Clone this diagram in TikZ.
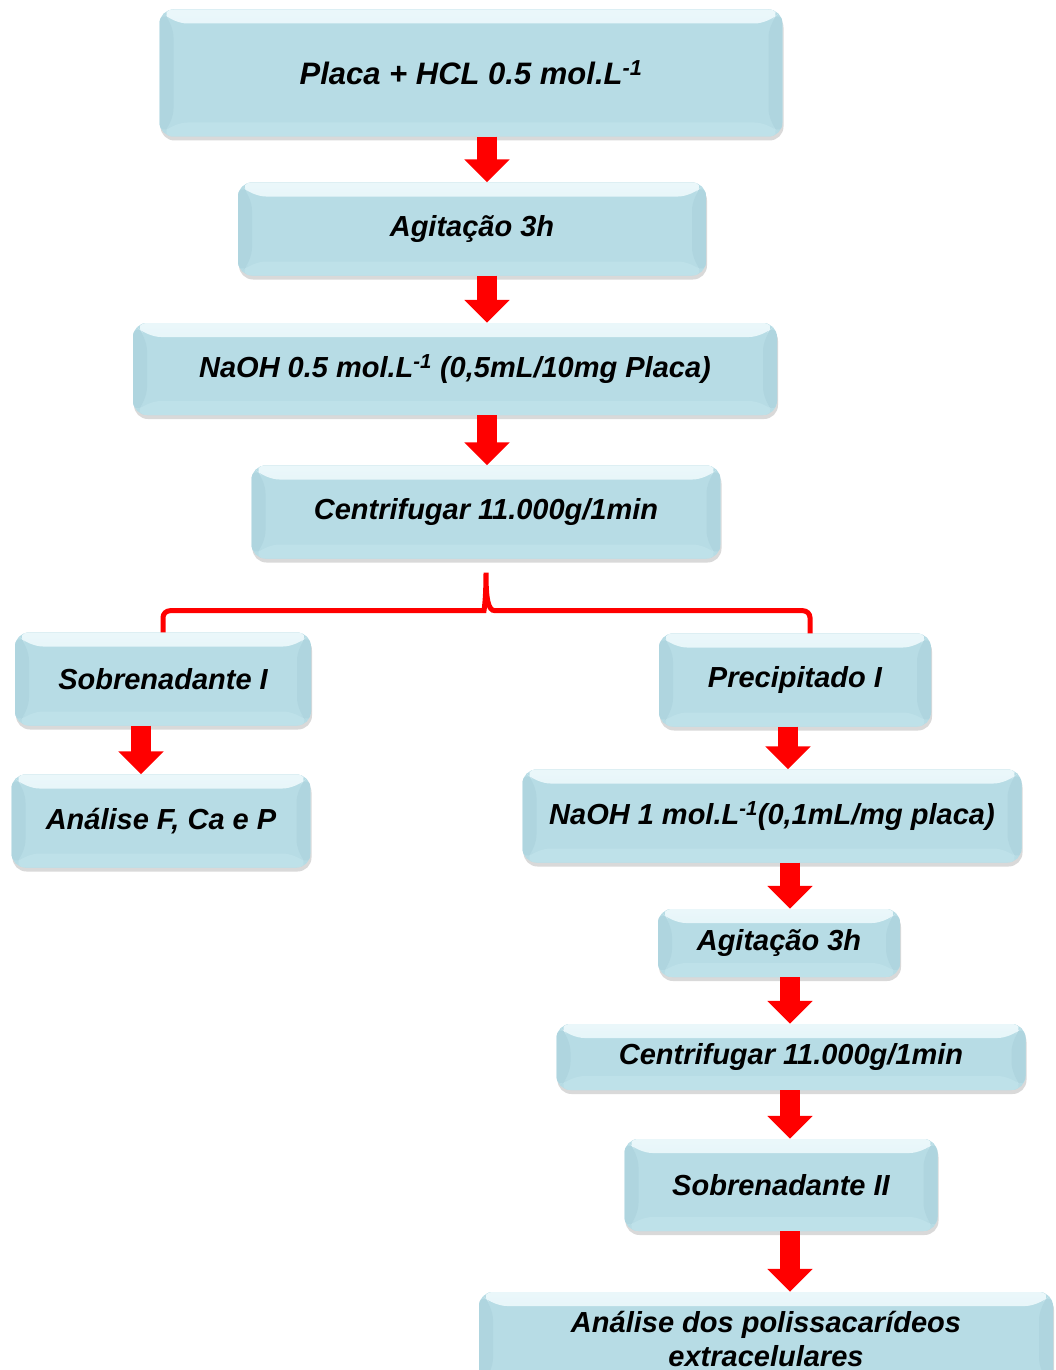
\documentclass[tikz,border=0pt]{standalone}
\usepackage{fontspec}
\setmainfont{Liberation Sans}
\usetikzlibrary{positioning, calc, arrows.meta, shadows}

\definecolor{caixa}{RGB}{183,220,229}
\definecolor{caixaluz}{RGB}{214,239,245}
\definecolor{caixalado}{RGB}{175,213,223}
\definecolor{caixabase}{RGB}{190,225,233}

\tikzset{
  etapa/.style={rounded corners=14pt, fill=caixa, inner sep=0pt, align=center,
    font=\bfseries\itshape\fontsize{29}{34}\selectfont,
    drop shadow={shadow xshift=1pt, shadow yshift=-4pt, opacity=.25, fill=black!60},
    path picture={
      \fill[top color=white!50!caixaluz, bottom color=caixaluz]
        (path picture bounding box.north west) -- (path picture bounding box.north east)
        -- ([shift={(-14pt,-14pt)}]path picture bounding box.north east)
        -- ([shift={(14pt,-14pt)}]path picture bounding box.north west) -- cycle;
      \fill[caixalado]
        (path picture bounding box.north west) -- ([shift={(14pt,-14pt)}]path picture bounding box.north west)
        -- ([shift={(14pt,14pt)}]path picture bounding box.south west) -- (path picture bounding box.south west) -- cycle;
      \fill[caixalado]
        (path picture bounding box.north east) -- ([shift={(-14pt,-14pt)}]path picture bounding box.north east)
        -- ([shift={(-14pt,14pt)}]path picture bounding box.south east) -- (path picture bounding box.south east) -- cycle;
      \fill[caixabase]
        (path picture bounding box.south west) -- (path picture bounding box.south east)
        -- ([shift={(-14pt,14pt)}]path picture bounding box.south east)
        -- ([shift={(14pt,14pt)}]path picture bounding box.south west) -- cycle;
    }},
  seta/.style={red, line width=20pt, -{Triangle[width=44pt,length=23pt]}},
  chave/.style={red, line width=5pt, rounded corners=7pt},
}

\begin{document}
\begin{tikzpicture}[x=1pt, y=-1pt]
\path[use as bounding box, clip] (0,0) rectangle (1055,1370);

% ramo principal
\node[etapa, minimum width=623pt, minimum height=127pt, font=\bfseries\itshape\fontsize{31}{36}\selectfont] (placa) at (471,73) {Placa + HCL 0.5 mol.L\textsuperscript{-1}};
\node[etapa, minimum width=468pt, minimum height=93pt] (agit) at (472,229) {Agitação 3h};
\node[etapa, minimum width=644pt, minimum height=92pt] (naoh) at (455,369) {NaOH 0.5 mol.L\textsuperscript{-1} (0,5mL/10mg Placa)};
\node[etapa, minimum width=469pt, minimum height=93pt] (centr) at (486,512) {Centrifugar 11.000g/1min};

% lado esquerdo
\node[etapa, minimum width=296pt, minimum height=93pt] (sobre) at (163,679) {Sobrenadante I};
\node[etapa, minimum width=299pt, minimum height=93pt] (analise) at (161,821) {Análise F, Ca e P};

% lado direito
\node[etapa, minimum width=272pt, minimum height=93pt] (precip) at (795,680) {Precipitado I};
\node[etapa, minimum width=499pt, minimum height=93pt] (naohb) at (772,816) {NaOH 1 mol.L\textsuperscript{-1}(0,1mL/mg placa)};
\node[etapa, minimum width=242pt, minimum height=68pt] (agitb) at (779,943) {Agitação 3h};
\node[etapa, minimum width=469pt, minimum height=66pt] (centrb) at (791,1057) {Centrifugar 11.000g/1min};
\node[etapa, minimum width=313pt, minimum height=92pt] (sobreb) at (781,1185) {Sobrenadante II};
\node[etapa, minimum width=574pt, minimum height=94pt] (polis) at (766,1339) {Análise dos polissacarídeos\\extracelulares};

% setas
\draw[seta] ([xshift=16pt]placa.south) -- ([xshift=15pt]agit.north);
\draw[seta] ([xshift=15pt]agit.south) -- ([xshift=32pt]naoh.north);
\draw[seta] ([xshift=32pt]naoh.south) -- ([xshift=1pt]centr.north);
\draw[seta] ([xshift=-22pt]sobre.south) -- ([xshift=-20pt]analise.north);
\draw[seta] ([xshift=-7pt]precip.south) -- ([xshift=16pt]naohb.north);
\draw[seta] ([xshift=18pt]naohb.south) -- ([xshift=11pt]agitb.north);
\draw[seta] ([xshift=11pt]agitb.south) -- ([xshift=-1pt]centrb.north);
\draw[seta] ([xshift=-1pt]centrb.south) -- ([xshift=9pt]sobreb.north);
\draw[seta] ([xshift=9pt]sobreb.south) -- ([xshift=24pt]polis.north);

% chave
\coordinate (ponta) at ([yshift=-14pt]centr.south);
\draw[chave] (sobre.north) |- ($(ponta)+(-9,38)$)
  [sharp corners] .. controls ($(ponta)+(-2,38)$) and ($(ponta)+(0,26)$) .. (ponta)
  .. controls ($(ponta)+(0,26)$) and ($(ponta)+(2,38)$) .. ($(ponta)+(9,38)$)
  [rounded corners=7pt] -| ([xshift=15pt]precip.north);
\end{tikzpicture}
\end{document}
